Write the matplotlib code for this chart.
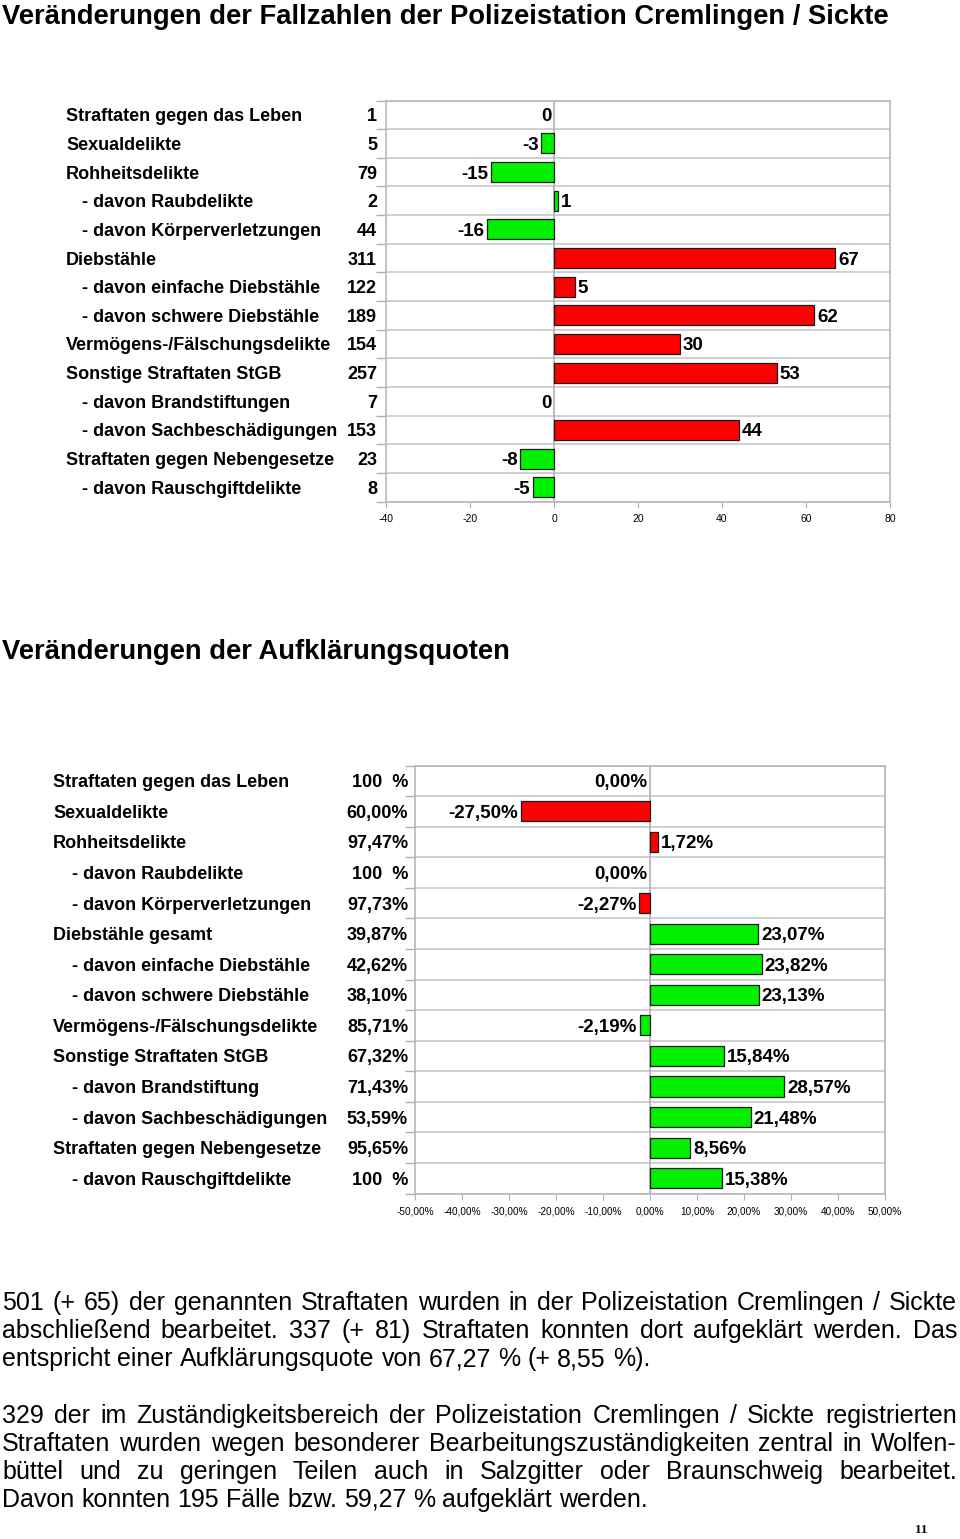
import numpy as np
import matplotlib.pyplot as plt
from matplotlib.transforms import blended_transform_factory

# Veraenderungen der Fallzahlen
top_categories = ['Straftaten gegen das Leben', 'Sexualdelikte', 'Rohheitsdelikte',
                  '- davon Raubdelikte', '- davon Körperverletzungen', 'Diebstähle',
                  '- davon einfache Diebstähle', '- davon schwere Diebstähle',
                  'Vermögens-/Fälschungsdelikte', 'Sonstige Straftaten StGB',
                  '- davon Brandstiftungen', '- davon Sachbeschädigungen',
                  'Straftaten gegen Nebengesetze', '- davon Rauschgiftdelikte']
top_counts = ['1', '5', '79', '2', '44', '311', '122', '189', '154', '257', '7', '153', '23', '8']
top_changes = [0, -3, -15, 1, -16, 67, 5, 62, 30, 53, 0, 44, -8, -5]
top_ticks = [-40, -20, 0, 20, 40, 60, 80]

# Veraenderungen der Aufklaerungsquoten
bottom_categories = ['Straftaten gegen das Leben', 'Sexualdelikte', 'Rohheitsdelikte',
                     '- davon Raubdelikte', '- davon Körperverletzungen', 'Diebstähle gesamt',
                     '- davon einfache Diebstähle', '- davon schwere Diebstähle',
                     'Vermögens-/Fälschungsdelikte', 'Sonstige Straftaten StGB',
                     '- davon Brandstiftung', '- davon Sachbeschädigungen',
                     'Straftaten gegen Nebengesetze', '- davon Rauschgiftdelikte']
bottom_rates = ['100  %', '60,00%', '97,47%', '100  %', '97,73%', '39,87%', '42,62%',
                '38,10%', '85,71%', '67,32%', '71,43%', '53,59%', '95,65%', '100  %']
bottom_changes = [0.0, -27.50, 1.72, 0.0, -2.27, 23.07, 23.82, 23.13, -2.19,
                  15.84, 28.57, 21.48, 8.56, 15.38]
bottom_ticks = [-50, -40, -30, -20, -10, 0, 10, 20, 30, 40, 50]

paragraph1 = ['501 (+ 65) der genannten Straftaten wurden in der Polizeistation Cremlingen / Sickte',
              'abschließend bearbeitet. 337 (+ 81) Straftaten konnten dort aufgeklärt werden. Das',
              'entspricht einer Aufklärungsquote von 67,27 % (+ 8,55 %).']
paragraph2 = ['329 der im Zuständigkeitsbereich der Polizeistation Cremlingen / Sickte registrierten',
              'Straftaten wurden wegen besonderer Bearbeitungszuständigkeiten zentral in Wolfen-',
              'büttel und zu geringen Teilen auch in Salzgitter oder Braunschweig bearbeitet.',
              'Davon konnten 195 Fälle bzw. 59,27 % aufgeklärt werden.']

RED = '#ff0000'
GREEN = '#00f000'
top_colors = [GREEN, GREEN, GREEN, GREEN, GREEN, RED, RED, RED, RED, RED, RED, RED, GREEN, GREEN]
bottom_colors = [RED, RED, RED, RED, RED, GREEN, GREEN, GREEN, GREEN, GREEN, GREEN, GREEN, GREEN, GREEN]

SANS = ['Liberation Sans', 'DejaVu Sans']

W, H = 960, 1539
fig = plt.figure(figsize=(W / 100, H / 100), dpi=100)
fig.patch.set_facecolor('white')


def box(left, top, right, bottom):
    return [left / W, 1 - bottom / H, (right - left) / W, (bottom - top) / H]


def draw_panel(ax, labels, values, changes, colors, ticks, fmt, x_main, x_sub, x_val,
               bar_h, lab_size, val_size, tick_size):
    n = len(changes)
    y = np.arange(n)
    edges = ['none' if v == 0 else '#1a1a1a' for v in changes]
    ax.barh(y, changes, height=bar_h, color=colors, edgecolor=edges, linewidth=0.9, zorder=3)
    ax.set_ylim(n - 0.5, -0.5)
    ax.set_xlim(ticks[0], ticks[-1])
    ax.set_yticks(np.arange(n + 1) - 0.5)
    ax.set_yticklabels([])
    ax.tick_params(axis='y', length=7, color='#b0b0b0', width=1)
    ax.grid(axis='y', color='#c8c8c8', linewidth=1.2, zorder=1)
    ax.axvline(0, color='#b0b0b0', linewidth=1.2, zorder=2)
    for s in ax.spines.values():
        s.set_color('#b8b8b8')
        s.set_linewidth(1.2)
    ax.set_xticks(ticks)
    ax.set_xticklabels([fmt(t) for t in ticks], fontsize=tick_size, family=SANS)
    ax.tick_params(axis='x', length=4, color='#b0b0b0', pad=5)

    for yi, v in zip(y, changes):
        if v > 0:
            ax.annotate(fmt(v), (v, yi), xytext=(2, 0), textcoords='offset points',
                        ha='left', va='center_baseline', fontsize=val_size, fontweight='bold',
                        family=SANS, zorder=4)
        else:
            ax.annotate(fmt(v), (v, yi), xytext=(-2, 0), textcoords='offset points',
                        ha='right', va='center_baseline', fontsize=val_size, fontweight='bold',
                        family=SANS, zorder=4)

    tr = blended_transform_factory(fig.transFigure, ax.transData)
    for yi, lab, val in zip(y, labels, values):
        x = x_sub if lab.startswith('-') else x_main
        fig.text(x / W, yi, lab, transform=tr, ha='left', va='center_baseline',
                 fontsize=lab_size, fontweight='bold', family=SANS)
        fig.text(x_val / W, yi, val, transform=tr, ha='right', va='center_baseline',
                 fontsize=lab_size, fontweight='bold', family=SANS)


def fmt_top(v):
    return str(int(v))


def fmt_bottom(v):
    return ('%.2f%%' % v).replace('.', ',')


fig.text(2 / W, 1 - 14 / H, 'Veränderungen der Fallzahlen der Polizeistation Cremlingen / Sickte',
         ha='left', va='center_baseline', fontsize=19.7, fontweight='bold', family=SANS)
fig.text(2 / W, 1 - 649 / H, 'Veränderungen der Aufklärungsquoten',
         ha='left', va='center_baseline', fontsize=19.7, fontweight='bold', family=SANS)

ax1 = fig.add_axes(box(386, 100.5, 890, 501.5))
draw_panel(ax1, top_categories, top_counts, top_changes, top_colors, top_ticks, fmt_top,
           66, 82, 377, 0.7, 13, 13.5, 7.5)

ax2 = fig.add_axes(box(415, 765.5, 885, 1193.5))
draw_panel(ax2, bottom_categories, bottom_rates, bottom_changes, bottom_colors, bottom_ticks,
           fmt_bottom, 53, 72, 408, 0.66, 13, 13.5, 7.2)

# Fliesstext, Blocksatz
renderer = fig.canvas.get_renderer()
body_kw = dict(fontsize=18, family=SANS, va='baseline', ha='left')


def text_width(s):
    t = fig.text(0, 0, s, **body_kw)
    w = t.get_window_extent(renderer).width
    t.remove()
    return w


def put_line(text, y_px, justify):
    words = text.split(' ')
    widths = [text_width(w) for w in words]
    space = text_width('a a') - text_width('aa')
    gap = (957 - 2 - sum(widths)) / (len(words) - 1) if justify else space
    x = 2
    for w, wd in zip(words, widths):
        fig.text(x / W, 1 - (y_px + 8) / H, w, **body_kw)
        x += wd + gap


for i, line in enumerate(paragraph1):
    put_line(line, 1302 + 28 * i, i < len(paragraph1) - 1)
for i, line in enumerate(paragraph2):
    put_line(line, 1415 + 28 * i, i < len(paragraph2) - 1)

fig.text(921 / W, 1 - 1530 / H, '11', ha='center', va='center', fontsize=9.5,
         fontweight='bold', family=['Liberation Serif', 'DejaVu Serif'])

fig.savefig('out.png', dpi=100)
